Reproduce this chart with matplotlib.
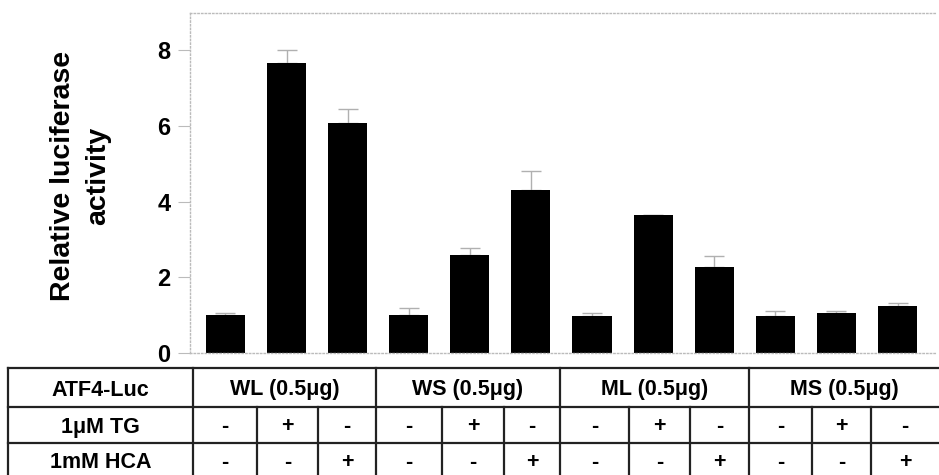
import matplotlib
matplotlib.use("Agg")
import matplotlib.pyplot as plt
import numpy as np

plt.rcParams['font.family'] = ['Liberation Sans', 'DejaVu Sans']
plt.rcParams['font.weight'] = 'bold'

# luciferase readout, 12 conditions (3 per construct)
constructs = ['WL (0.5μg)', 'WS (0.5μg)', 'ML (0.5μg)', 'MS (0.5μg)']
tg_signs = ['-', '+', '-', '-', '+', '-', '-', '+', '-', '-', '+', '-']
hca_signs = ['-', '-', '+', '-', '-', '+', '-', '-', '+', '-', '-', '+']
activity = [1.0, 7.65, 6.07, 1.0, 2.6, 4.31, 0.99, 3.65, 2.28, 0.97, 1.06, 1.23]
sem = [0.06, 0.35, 0.37, 0.18, 0.18, 0.50, 0.06, 0.0, 0.28, 0.15, 0.06, 0.10]
row_labels = ['ATF4-Luc', '1μM TG', '1mM HCA']

W, H = 939, 475
fig = plt.figure(figsize=(W / 100, H / 100), dpi=100)

ax = fig.add_axes([190 / W, 1 - 353 / H, (936 - 190) / W, (353 - 13) / H])
x = np.arange(len(activity))
ax.bar(x, activity, width=0.64, color='black', zorder=2)
ax.errorbar(x, activity, yerr=[np.zeros(len(sem)), sem], fmt='none',
            ecolor='#b0b0b0', elinewidth=1, capsize=7, capthick=1, zorder=1)
ax.set_xlim(-0.58, 11.63)
ax.set_ylim(0, 8.98)
ax.set_yticks([0, 2, 4, 6, 8])
ax.set_xticks([])
ax.tick_params(axis='y', length=9, width=0.8, color='#bbbbbb', pad=5, labelsize=17)
for t in ax.get_yticklabels():
    t.set_fontweight('bold')
for side in ['left', 'top', 'bottom']:
    ax.spines[side].set_color('#bbbbbb')
    ax.spines[side].set_linestyle(':')
    ax.spines[side].set_linewidth(1)
ax.spines['right'].set_visible(False)
ax.set_ylabel('Relative luciferase\nactivity', fontsize=20.5, fontweight='bold',
              linespacing=1.45)
ax.yaxis.set_label_coords(-0.106, 0.52)

# condition table drawn in pixel coordinates below the bars
tab = fig.add_axes([0, 0, 1, 1], facecolor='none')
tab.set_xlim(0, W)
tab.set_ylim(H, 0)
tab.axis('off')

col_edges = [8, 193, 257, 318, 376, 442, 504, 560, 629, 690, 749, 812, 871, 939]
row_edges = [368, 407, 443]
row_text_y = [390, 427, 462]
lc = '#222222'
lw = 1.6
for y in row_edges:
    tab.plot([col_edges[0], W], [y, y], color=lc, lw=lw)
for i, cx in enumerate(col_edges[:-1]):
    top = row_edges[0] if i in (0, 1, 4, 7, 10) else row_edges[1]
    tab.plot([cx, cx], [top, H], color=lc, lw=lw)

fs = 15.5
for r, label in enumerate(row_labels):
    tab.text((col_edges[0] + col_edges[1]) / 2, row_text_y[r], label, ha='center',
             va='center', fontsize=fs, fontweight='bold')

for g, name in enumerate(constructs):
    left = col_edges[1 + 3 * g]
    right = col_edges[4 + 3 * g]
    tab.text((left + right) / 2, row_text_y[0], name, ha='center', va='center',
             fontsize=fs, fontweight='bold')

for j in range(len(tg_signs)):
    cx = (col_edges[1 + j] + col_edges[2 + j]) / 2
    tab.text(cx, row_text_y[1], tg_signs[j], ha='center', va='center', fontsize=fs,
             fontweight='bold')
    tab.text(cx, row_text_y[2], hca_signs[j], ha='center', va='center', fontsize=fs,
             fontweight='bold')

fig.savefig('out.png', dpi=100)
